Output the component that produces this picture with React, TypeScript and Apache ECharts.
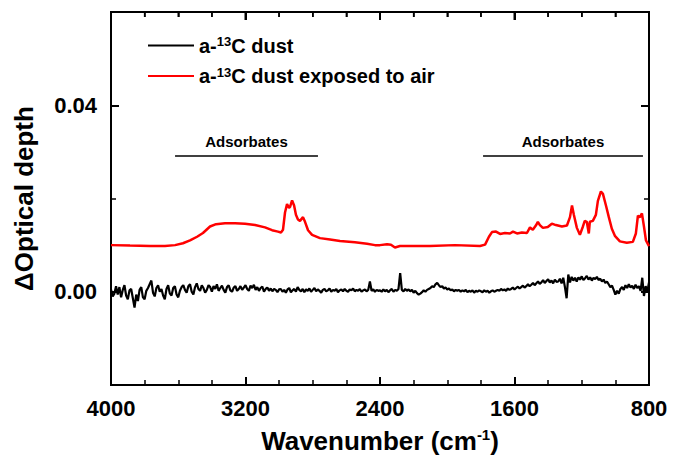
import React, { useEffect, useRef } from "react";
import * as echarts from "echarts";

// Black: a-13C dust. Each chunk: starting wavenumber, then values every 10 cm-1 going down.
const blackChunk1Start = 4000;
const blackChunk1: number[] = [
  0.0005, -0.0010, -0.0004, 0.0012, -0.0006, 0.0010, -0.0012, 0.0004, 0.0014, -0.0008,
  -0.0016, 0.0003, 0.0006, -0.0014, -0.0034, -0.0006, -0.0020, 0.0004, 0.0010, -0.0012,
  -0.0016, 0.0002, 0.0008, 0.0016, 0.0024, -0.0002, -0.0010, 0.0008, 0.0014, 0.0000,
  0.0006, -0.0008, -0.0016, 0.0006, 0.0014, -0.0004, -0.0008, 0.0008, 0.0012, -0.0006,
  -0.0012,
];
const blackChunk2Start = 3590;
const blackChunk2: number[] = [
  0.0002, 0.0010, 0.0014, 0.0004, -0.0002, 0.0012, 0.0016, 0.0000, -0.0006, 0.0010,
  0.0018, 0.0006, 0.0002, 0.0014, 0.0008, -0.0002, 0.0004, 0.0014, 0.0010, 0.0000,
  0.0012, 0.0006, 0.0016, 0.0002, 0.0008, 0.0013, 0.0004, -0.0002, 0.0010, 0.0014,
  0.0003, 0.0000, 0.0009, 0.0012, 0.0002, 0.0006, 0.0012, 0.0004, 0.0009, 0.0014,
  0.0006, 0.0002, 0.0013, 0.0008, 0.0015, 0.0004, 0.0010, 0.0002, 0.0008, 0.0011,
  0.0000, 0.0006, 0.0009, 0.0002, 0.0007, 0.0001, 0.0006, 0.0004, -0.0001, 0.0005,
];
const blackChunk3Start = 2990;
const blackChunk3: number[] = [
  0.0006, 0.0000, 0.0004, -0.0002, 0.0005, 0.0008, -0.0001, 0.0003, 0.0006, 0.0000,
  0.0010, 0.0004, 0.0001, 0.0006, -0.0001, 0.0005, 0.0002, 0.0007, 0.0000, 0.0004,
  0.0008, 0.0001, 0.0005, 0.0002, -0.0002, 0.0004, 0.0006, 0.0001, 0.0003, 0.0007,
  0.0000, 0.0004, 0.0002, 0.0006, -0.0001, 0.0003, 0.0005, 0.0001, 0.0006, 0.0002,
  0.0000, 0.0005, 0.0003, 0.0007, 0.0001, 0.0004, 0.0002, 0.0006, 0.0000, 0.0003,
  0.0005, 0.0001, 0.0004, 0.0022, 0.0002, 0.0005, 0.0000, 0.0004, 0.0002,
];
const blackChunk4Start = 2400;
const blackChunk4: number[] = [
  0.0003, 0.0000, 0.0005, 0.0001, 0.0004, -0.0001, 0.0003, 0.0006, 0.0000, 0.0004, 0.0002, 0.0006,
  0.0040,
  0.0004, 0.0001, 0.0006, 0.0002, 0.0005,
  0.0001, 0.0004, -0.0002, 0.0002, -0.0003,
  -0.0006, -0.0004, -0.0001, 0.0003, 0.0000,
  0.0004, 0.0006, 0.0008, 0.0012, 0.0010,
  0.0016, 0.0019, 0.0014, 0.0010, 0.0012,
  0.0007, 0.0009, 0.0005, 0.0007, 0.0003,
  0.0005, 0.0001, 0.0004, 0.0002, 0.0004, 0.0000, 0.0003, 0.0001, 0.0004, -0.0001,
  0.0002, 0.0000, 0.0003, -0.0002, 0.0002, 0.0000, 0.0003, 0.0001, -0.0001, 0.0003,
  0.0000, 0.0002, -0.0002, 0.0001, 0.0003, 0.0000, 0.0002,
];
const blackChunk5Start = 1700;
const blackChunk5: number[] = [
  0.0004, 0.0002, 0.0006, 0.0003, 0.0005, 0.0002, 0.0007, 0.0004, 0.0006, 0.0009,
  0.0005, 0.0008, 0.0011, 0.0007, 0.0010, 0.0013, 0.0009, 0.0012, 0.0016, 0.0012,
  0.0015, 0.0019, 0.0014, 0.0018, 0.0022, 0.0017, 0.0020, 0.0025, 0.0019, 0.0023,
  0.0027, 0.0020, 0.0024, 0.0018, 0.0026, 0.0021,
];
const blackChunk6Start = 1340;
const blackChunk6: number[] = [
  0.0022, 0.0028, 0.0018, 0.0030, 0.0010, -0.0014, 0.0037, 0.0020, 0.0032, 0.0024,
  0.0030, 0.0022, 0.0031, 0.0026, 0.0033, 0.0025, 0.0029, 0.0034, 0.0026, 0.0031,
  0.0024, 0.0030, 0.0027, 0.0032, 0.0025, 0.0028, 0.0022, 0.0026, 0.0019, 0.0022,
];
const blackChunk7Start = 1040;
const blackChunk7: number[] = [
  0.0016, 0.0010, 0.0013, 0.0004, -0.0006, 0.0002, -0.0004, 0.0006, 0.0010, 0.0004,
  0.0014, 0.0008, 0.0016, 0.0009, 0.0013, 0.0006, 0.0015, 0.0008, 0.0012, 0.0002,
  0.0030, -0.0009, 0.0012, 0.0000, 0.0020,
];
const blackStep = 10;

// Red: a-13C dust exposed to air
const redWn: number[] = [
  4000, 3887, 3768, 3679, 3619, 3572, 3530, 3488, 3453, 3411, 3375, 3322, 3262, 3203, 3143, 3084, 3042, 3007,
  2989, 2977, 2965, 2953, 2941, 2935, 2923, 2911, 2900, 2888, 2876, 2858, 2846, 2828, 2804, 2757, 2697, 2638,
  2549, 2477, 2430, 2400, 2358, 2335, 2311, 2281, 2103, 1954, 1805, 1775, 1752, 1734, 1710, 1686, 1657, 1627,
  1609, 1585, 1556, 1526, 1508, 1491, 1473, 1461, 1449, 1431, 1402, 1378, 1354, 1318, 1288, 1270, 1258, 1247,
  1229, 1211, 1193, 1182, 1170, 1158, 1152, 1134, 1116, 1104, 1086, 1074, 1056, 1039, 1021, 1003, 973, 932,
  896, 878, 866, 854, 842, 830, 818, 800,
];
const redVal: number[] = [
  0.0100, 0.0099, 0.0098, 0.0098, 0.0100, 0.0104, 0.0110, 0.0118, 0.0126, 0.0140, 0.0145, 0.0147, 0.0147, 0.0146,
  0.0143, 0.0138, 0.0132, 0.0129, 0.0127, 0.0133, 0.0170, 0.0188, 0.0180, 0.0182, 0.0196, 0.0185, 0.0165, 0.0155,
  0.0152, 0.0160, 0.0150, 0.0132, 0.0122, 0.0115, 0.0112, 0.0109, 0.0106, 0.0103, 0.0100, 0.0100, 0.0102, 0.0101,
  0.0095, 0.0098, 0.0098, 0.0100, 0.0098, 0.0101, 0.0118, 0.0128, 0.0129, 0.0124, 0.0126, 0.0125, 0.0129, 0.0125,
  0.0127, 0.0126, 0.0138, 0.0133, 0.0142, 0.0150, 0.0143, 0.0137, 0.0139, 0.0146, 0.0143, 0.0140, 0.0142, 0.0160,
  0.0185, 0.0165, 0.0137, 0.0122, 0.0140, 0.0152, 0.0150, 0.0125, 0.0150, 0.0152, 0.0165, 0.0195, 0.0215, 0.0210,
  0.0185, 0.0160, 0.0135, 0.0120, 0.0108, 0.0105, 0.0107, 0.0125, 0.0163, 0.0160, 0.0168, 0.0140, 0.0110, 0.0098,
];

const xTicks = [4000, 3200, 2400, 1600, 800];
const xMinorStep = 200;
const yLabelValues = [0, 0.04];
const yMinorValues = [0.02];
const yTop = 0.06;

const seriesNames = ["a-13C dust", "a-13C dust exposed to air"];
const annotationText = "Adsorbates";
const annotationY = 0.0291;
const annotationLeft: [number, number] = [3619, 2769];
const annotationRight: [number, number] = [1787, 836];

const FONT = "'Liberation Sans', Arial, sans-serif";

function chunkToPairs(start: number, vals: number[]): [number, number][] {
  return vals.map((v, i) => [start - i * blackStep, v]);
}

function makeX(position: "top" | "bottom", extra: any) {
  return {
    type: "value",
    position,
    min: 800,
    max: 4000,
    interval: 800,
    inverse: true,
    axisLine: { show: true, onZero: false, lineStyle: { color: "#000", width: 2 } },
    axisTick: { show: true, inside: true, length: 8, lineStyle: { color: "#000", width: 2 } },
    minorTick: { show: true, splitNumber: 4, length: 5, lineStyle: { color: "#000", width: 1.5 } },
    splitLine: { show: false },
    minorSplitLine: { show: false },
    ...extra,
  };
}

function makeY(position: "left" | "right", major: boolean, extra: any) {
  return {
    type: "value",
    position,
    min: -0.02,
    max: 0.06,
    interval: 0.02,
    axisLine: { show: major, onZero: false, lineStyle: { color: "#000", width: 2 } },
    axisTick: {
      show: true,
      inside: true,
      length: major ? 8 : 5,
      customValues: major ? yLabelValues : yMinorValues,
      lineStyle: { color: "#000", width: major ? 2 : 1.5 },
    },
    axisLabel: { show: false },
    splitLine: { show: false },
    ...extra,
  };
}

export default function App() {
  const ref = useRef<HTMLDivElement>(null);
  useEffect(() => {
    if (!ref.current) return;
    document.body.style.margin = "0";
    const chart = echarts.init(ref.current, undefined, { renderer: "svg" });
    const blackData = [
      ...chunkToPairs(blackChunk1Start, blackChunk1),
      ...chunkToPairs(blackChunk2Start, blackChunk2),
      ...chunkToPairs(blackChunk3Start, blackChunk3),
      ...chunkToPairs(blackChunk4Start, blackChunk4),
      ...chunkToPairs(blackChunk5Start, blackChunk5),
      ...chunkToPairs(blackChunk6Start, blackChunk6),
      ...chunkToPairs(blackChunk7Start, blackChunk7),
    ];
    const redData = redWn.map((w, i) => [w, redVal[i]]);
    const xMin = Math.min(...xTicks);
    const xMax = Math.max(...xTicks);
    chart.setOption({
      animation: false,
      grid: { left: 111, right: 33, top: 12, bottom: 75, show: true, borderColor: "#000", borderWidth: 2 },
      legend: {
        show: true,
        orient: "vertical",
        left: 143,
        top: 30,
        icon: "rect",
        itemWidth: 46,
        itemHeight: 2,
        itemGap: 10,
        data: seriesNames,
        formatter: (n: string) =>
          n === seriesNames[0] ? "a-{sup|13}C dust" : "a-{sup|13}C dust exposed to air",
        textStyle: {
          fontFamily: FONT,
          fontSize: 20,
          fontWeight: "bold",
          color: "#000",
          rich: {
            sup: { fontFamily: FONT, fontSize: 13, fontWeight: "bold", color: "#000", verticalAlign: "top", padding: [0, 0, 8, 0] },
          },
        },
      },
      xAxis: [
        makeX("bottom", {
          name: "{t|Wavenumber (cm}{s|-1}{t|)}",
          nameLocation: "middle",
          nameGap: 42,
          nameTextStyle: {
            rich: {
              t: { fontFamily: FONT, fontSize: 26, fontWeight: "bold", color: "#000" },
              s: { fontFamily: FONT, fontSize: 15, fontWeight: "bold", color: "#000", verticalAlign: "top", padding: [0, 0, 12, 0] },
            },
          },
          axisLabel: {
            show: true,
            margin: 12,
            fontFamily: FONT,
            fontSize: 22,
            fontWeight: "bold",
            color: "#000",
            customValues: xTicks,
            formatter: (v: number) => String(v),
          },
        }),
        makeX("top", { axisLabel: { show: false } }),
      ],
      yAxis: [
        makeY("left", true, {
          name: "ΔOptical depth",
          nameLocation: "middle",
          nameGap: 74,
          nameTextStyle: { fontFamily: FONT, fontSize: 26, fontWeight: "bold", color: "#000" },
          axisLabel: {
            show: true,
            margin: 14,
            fontFamily: FONT,
            fontSize: 22,
            fontWeight: "bold",
            color: "#000",
            customValues: yLabelValues,
            formatter: (v: number) => v.toFixed(2),
          },
        }),
        makeY("left", false, {}),
        makeY("right", true, {}),
        makeY("right", false, {}),
      ],
      series: [
        {
          name: seriesNames[0],
          type: "line",
          xAxisIndex: 0,
          yAxisIndex: 0,
          data: blackData,
          symbol: "none",
          lineStyle: { color: "#000", width: 2.2 },
          itemStyle: { color: "#000" },
          z: 3,
        },
        {
          name: seriesNames[1],
          type: "line",
          xAxisIndex: 0,
          yAxisIndex: 0,
          data: redData,
          symbol: "none",
          lineStyle: { color: "#ff0000", width: 2.5 },
          itemStyle: { color: "#ff0000" },
          z: 2,
          markLine: {
            silent: true,
            symbol: "none",
            animation: false,
            lineStyle: { color: "#000", width: 1.5, type: "solid" },
            label: {
              show: true,
              position: "middle",
              distance: 7,
              formatter: annotationText,
              fontFamily: FONT,
              fontSize: 15,
              fontWeight: "bold",
              color: "#000",
            },
            data: [
              [{ coord: [annotationLeft[0], annotationY] }, { coord: [annotationLeft[1], annotationY] }],
              [{ coord: [annotationRight[0], annotationY] }, { coord: [annotationRight[1], annotationY] }],
            ],
          },
        },
        {
          name: "frameTop",
          type: "line",
          xAxisIndex: 0,
          yAxisIndex: 0,
          data: [[xMax, yTop], [xMin, yTop]],
          symbol: "none",
          clip: false,
          silent: true,
          lineStyle: { color: "#000", width: 2 },
          z: 10,
        },
      ],
    });

    // Top-edge ticks, placed through the axes' own scales.
    const finder = { xAxisIndex: 0, yAxisIndex: 0 };
    const pL = chart.convertToPixel(finder, [xMax, yTop]) as number[];
    if (pL && isFinite(pL[1])) {
      const topY = pL[1];
      const elems: any[] = [];
      for (let w = xMin; w <= xMax; w += xMinorStep) {
        const p = chart.convertToPixel(finder, [w, yTop]) as number[];
        const major = xTicks.indexOf(w) >= 0;
        elems.push({
          type: "line",
          z: 100,
          silent: true,
          shape: { x1: p[0], y1: topY, x2: p[0], y2: topY + (major ? 8 : 5) },
          style: { stroke: "#000", lineWidth: major ? 2 : 1.5 },
        });
      }
      chart.setOption({ graphic: elems });
    }
    return () => chart.dispose();
  }, []);
  return <div ref={ref} style={{ width: 682, height: 460 }} />;
}
